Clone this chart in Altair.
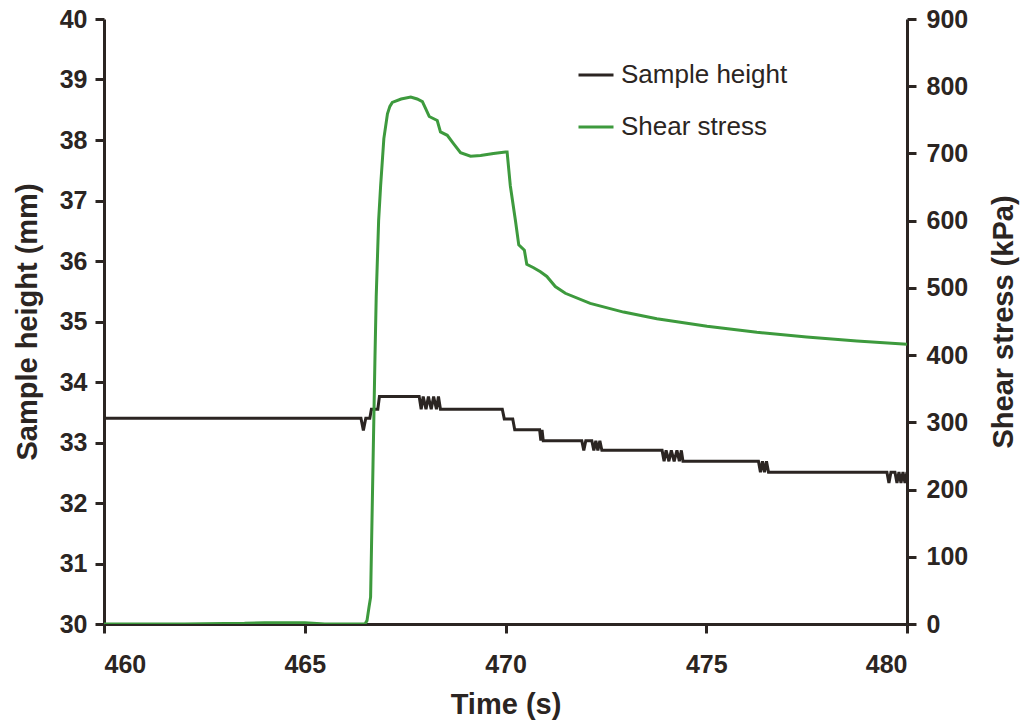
import altair as alt
import pandas as pd

# Sample height (mm) vs time (s)
height_time = [460.0, 466.40, 466.46, 466.52, 466.62, 466.66, 466.82, 466.86, 467.85,
               467.90, 467.95, 468.02, 468.08, 468.15, 468.21, 468.28, 468.33, 468.38,
               469.92, 469.97, 470.18, 470.23, 470.85, 470.88, 470.91, 470.94,
               471.90, 471.95, 472.00, 472.15, 472.20, 472.25, 472.30, 472.35, 472.40,
               473.90, 473.95, 474.00, 474.07, 474.13, 474.20, 474.27, 474.33, 474.38, 474.42,
               476.30, 476.35, 476.40, 476.45, 476.50, 476.55,
               479.50, 479.55, 479.60, 479.70, 479.75, 479.80, 479.85, 479.90, 479.95, 480.0]
height_mm = [33.40, 33.40, 33.20, 33.40, 33.40, 33.55, 33.55, 33.76, 33.76,
             33.55, 33.76, 33.55, 33.76, 33.55, 33.76, 33.55, 33.76, 33.55,
             33.55, 33.39, 33.39, 33.21, 33.21, 33.03, 33.21, 33.03,
             33.03, 32.87, 33.03, 33.03, 32.87, 33.03, 32.87, 33.03, 32.87,
             32.87, 32.69, 32.87, 32.69, 32.87, 32.69, 32.87, 32.69, 32.87, 32.69,
             32.69, 32.51, 32.69, 32.51, 32.69, 32.51,
             32.51, 32.33, 32.51, 32.51, 32.33, 32.51, 32.33, 32.51, 32.33, 32.51]

# Shear stress (kPa) vs time (s)
stress_time = [460.0, 462.0, 463.5, 464.0, 465.0, 465.5, 466.5, 466.55, 466.6, 466.64,
               466.7, 466.75, 466.78, 466.84, 466.89, 466.97, 467.06, 467.12, 467.18,
               467.4, 467.64, 467.8, 467.93, 468.0, 468.1, 468.2, 468.3, 468.38, 468.55,
               468.7, 468.88, 469.13, 469.38, 469.7, 470.0, 470.04, 470.12, 470.25,
               470.33, 470.47, 470.53, 470.7, 470.87, 471.03, 471.24, 471.49, 472.11,
               472.94, 473.77, 475.02, 476.26, 477.5, 478.75, 480.0]
stress_kpa = [0, 0, 1, 2, 2, 0, 0, 5, 25, 40,
              237, 400, 487, 600, 652, 722, 759, 770, 776,
              781, 784, 781, 777, 768, 755, 752, 749, 732, 727,
              715, 701, 696, 697, 700, 702, 702, 652, 599,
              564, 556, 535, 530, 524, 517, 502, 492, 477,
              464, 454, 443, 434, 427, 421, 416]

series_names = ["Sample height", "Shear stress"]
series_colors = ["#2b2522", "#3d9a3d"]
x_ticks = [460, 465, 470, 475, 480]
left_ticks = list(range(30, 41))
right_ticks = list(range(0, 901, 100))

ink = "#2b2522"
font = "Liberation Sans"

df_h = pd.DataFrame({"t": height_time, "v": height_mm, "series": series_names[0]})
df_s = pd.DataFrame({"t": stress_time, "v": stress_kpa, "series": series_names[1]})

x_enc = alt.X("t:Q", scale=alt.Scale(domain=[460, 480], nice=False),
              axis=alt.Axis(title="Time (s)", values=x_ticks, labelPadding=19,
                            titlePadding=13))

color_enc = alt.Color("series:N",
                      scale=alt.Scale(domain=series_names, range=series_colors),
                      legend=alt.Legend(title=None, orient="none", legendX=473, legendY=37,
                                        symbolType="stroke", symbolSize=1225,
                                        symbolStrokeWidth=3, labelFontSize=26,
                                        labelFont=font, labelColor=ink, labelLimit=400,
                                        labelOffset=6, rowPadding=20))

line_h = alt.Chart(df_h).mark_line(strokeWidth=3, clip=True).encode(
    x=x_enc,
    y=alt.Y("v:Q", scale=alt.Scale(domain=[30, 40], nice=False),
            axis=alt.Axis(title="Sample height (mm)", values=left_ticks, orient="left",
                          labelPadding=8, titlePadding=17)),
    color=color_enc,
)

line_s = alt.Chart(df_s).mark_line(strokeWidth=3, clip=True).encode(
    x=x_enc,
    y=alt.Y("v:Q", scale=alt.Scale(domain=[0, 900], nice=False),
            axis=alt.Axis(title="Shear stress (kPa)", values=right_ticks, orient="right",
                          labelPadding=10, titlePadding=22, titleAngle=270,
                          titleBaseline="top")),
    color=color_enc,
)

chart = alt.layer(line_h, line_s).resolve_scale(y="independent").properties(
    width=803, height=605,
    padding={"left": 104, "top": 19, "right": 116, "bottom": 96},
    autosize=alt.AutoSizeParams(type="none"),
    background="white",
).configure_view(stroke=None).configure_axis(
    grid=False,
    domainColor=ink, domainWidth=3,
    tickColor=ink, tickWidth=3, tickSize=9,
    labelFont=font, labelFontSize=25, labelFontWeight="bold", labelColor=ink,
    titleFont=font, titleFontSize=29, titleFontWeight="bold", titleColor=ink,
)

chart.save("out.html", embed_options={"renderer": "svg", "actions": False})
